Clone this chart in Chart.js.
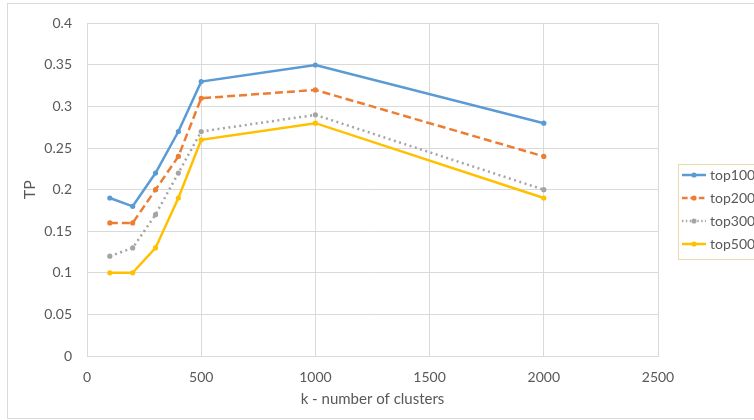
<!DOCTYPE html>
<html>
<head>
<meta charset="utf-8">
<script src="https://cdn.jsdelivr.net/npm/chart.js@4"></script>
<style>
html,body{margin:0;padding:0;background:#fff;overflow:hidden;}
#wrap{position:relative;width:754px;height:420px;}
</style>
</head>
<body>
<div id="wrap"><canvas id="c"></canvas></div>
<script>
const kValues = [100, 200, 300, 400, 500, 1000, 2000];
const top100 = [0.19, 0.18, 0.22, 0.27, 0.33, 0.35, 0.28];
const top200 = [0.16, 0.16, 0.20, 0.24, 0.31, 0.32, 0.24];
const top300 = [0.12, 0.13, 0.17, 0.22, 0.27, 0.29, 0.20];
const top500 = [0.10, 0.10, 0.13, 0.19, 0.26, 0.28, 0.19];
const seriesNames = ['top100', 'top200', 'top300', 'top500'];
const xTitle = 'k - number of clusters';
const yTitle = 'TP';

const colors = ['#5B9BD5', '#ED7D31', '#A5A5A5', '#FFC000'];
const dashes = [[], [8, 4], [2, 3.5], []];
const allSeries = [top100, top200, top300, top500];

function legendSymbol(color, dash) {
  const c = document.createElement('canvas');
  c.width = 24; c.height = 8;
  const g = c.getContext('2d');
  g.strokeStyle = color; g.lineWidth = 2.5;
  g.setLineDash(dash.length ? dash.map(v => v * 0.7) : []);
  g.beginPath(); g.moveTo(0, 4); g.lineTo(24, 4); g.stroke();
  g.setLineDash([]);
  g.fillStyle = color;
  g.beginPath(); g.arc(12, 4, 2.6, 0, Math.PI * 2); g.fill();
  return c;
}
const symbols = colors.map((c, i) => legendSymbol(c, dashes[i]));

const datasets = allSeries.map((vals, i) => ({
  label: seriesNames[i],
  data: kValues.map((k, j) => ({x: k, y: vals[j]})),
  borderColor: colors[i],
  backgroundColor: colors[i],
  borderWidth: 2.5,
  borderDash: dashes[i],
  borderCapStyle: 'butt',
  pointRadius: 2.6,
  pointHoverRadius: 2.6,
  pointBorderWidth: 0,
  pointStyle: 'circle',
  showLine: true,
  tension: 0
}));

const frame = {
  id: 'frame',
  beforeDraw(chart) {
    const ctx = chart.ctx;
    ctx.save();
    ctx.fillStyle = '#fff';
    ctx.fillRect(0, 0, chart.width, chart.height);
    ctx.strokeStyle = '#d9d9d9';
    ctx.lineWidth = 1;
    ctx.strokeRect(7.5, 3.5, 800, 415);
    ctx.restore();
  },
  afterLayout(chart) {
    const lg = chart.legend;
    lg.left = 676; lg.right = 900; lg.width = 224;
    lg.top = 0; lg.bottom = 419; lg.height = 419;
  },
  afterDraw(chart) {
    const ctx = chart.ctx;
    ctx.save();
    ctx.strokeStyle = '#e6dcae';
    ctx.lineWidth = 1;
    ctx.strokeRect(678.5, 164.5, 120, 95);
    ctx.restore();
  }
};

new Chart(document.getElementById('c'), {
  type: 'scatter',
  data: {datasets},
  options: {
    responsive: true,
    maintainAspectRatio: false,
    animation: false,
    layout: {padding: {top: 17, right: 36, bottom: 0, left: 0}},
    plugins: {
      tooltip: {enabled: false},
      legend: {
        position: 'right',
        maxWidth: 60,
        labels: {
          usePointStyle: true,
          pointStyleWidth: 18,
          padding: 9,
          color: '#595959',
          font: {family: 'Lato', size: 14},
          generateLabels(chart) {
            return Chart.defaults.plugins.legend.labels.generateLabels(chart).map((l, i) => Object.assign(l, {pointStyle: symbols[i]}));
          }
        }
      }
    },
    scales: {
      x: {
        type: 'linear',
        min: 0, max: 2500,
        afterFit(s) { s.height = 64; },
        ticks: {stepSize: 500, color: '#595959', font: {family: 'Lato', size: 14}, padding: 13, maxRotation: 0,
          callback: v => String(v)},
        grid: {color: '#d9d9d9', drawTicks: false},
        border: {color: '#d9d9d9'},
        title: {display: true, text: xTitle, color: '#595959', font: {family: 'Lato', size: 15}, padding: {top: 0, bottom: 12}}
      },
      y: {
        type: 'linear',
        min: 0, max: 0.4,
        afterFit(s) { s.width = 87; },
        ticks: {stepSize: 0.05, color: '#595959', font: {family: 'Lato', size: 14}, padding: 15,
          callback: v => String(Number(v.toFixed(2)))},
        grid: {color: '#d9d9d9', drawTicks: false},
        border: {display: false},
        title: {display: true, text: yTitle, color: '#595959', font: {family: 'Lato', size: 16}, padding: {top: 20, bottom: 0}}
      }
    }
  },
  plugins: [frame]
});
</script>
</body>
</html>
